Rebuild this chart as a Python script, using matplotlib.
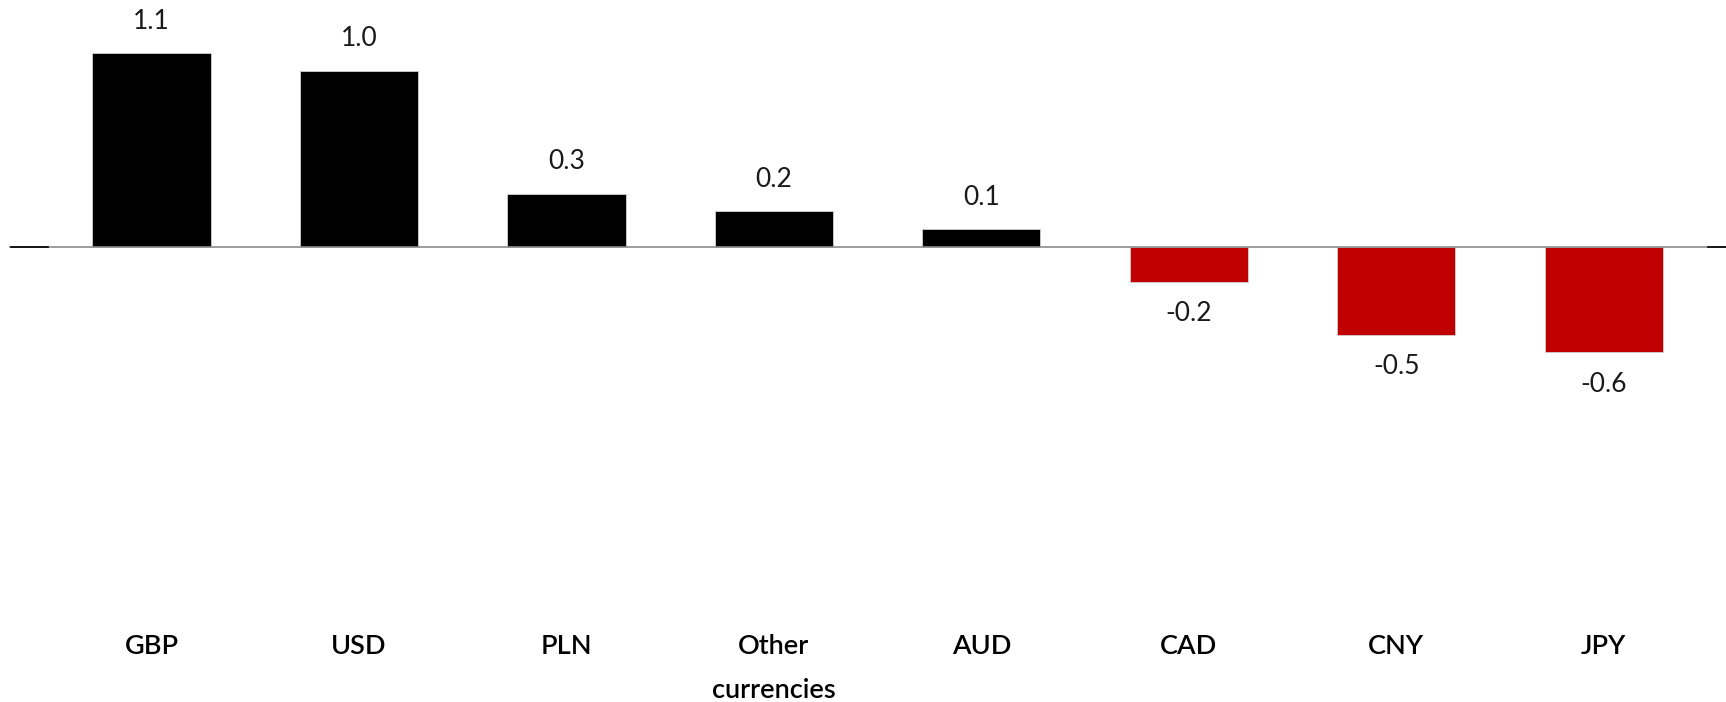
import matplotlib
matplotlib.use("Agg")
import matplotlib.pyplot as plt
import matplotlib.transforms as mtransforms

plt.rcParams['font.family'] = ['Lato', 'DejaVu Sans']

categories = ["GBP", "USD", "PLN", "Other\ncurrencies", "AUD", "CAD", "CNY", "JPY"]
values = [1.1, 1.0, 0.3, 0.2, 0.1, -0.2, -0.5, -0.6]
labels = ["1.1", "1.0", "0.3", "0.2", "0.1", "-0.2", "-0.5", "-0.6"]

POS_COLOR = "#000000"
NEG_COLOR = "#C00000"

fig = plt.figure(figsize=(17.26, 7.02), dpi=100)
ax = fig.add_axes([0, 0, 1, 1])

x = list(range(len(categories)))
colors = [POS_COLOR if v >= 0 else NEG_COLOR for v in values]
ax.bar(x, values, width=0.57, color=colors, edgecolor="#d0d0d0",
       linewidth=0.6, zorder=2)

ax.set_xlim(-0.73, 7.589)
ax.set_ylim(-2.587, 1.401)

# zero line with short dark ends
ax.plot([-0.68, 7.589], [0, 0], color="#8c8c8c", lw=1.2, zorder=3)
ax.plot([-0.678, -0.5], [0, 0], color="#000000", lw=1.2, zorder=4)
ax.plot([7.5, 7.589], [0, 0], color="#000000", lw=1.2, zorder=4)

for xi, v, lab in zip(x, values, labels):
    off = 23 if v >= 0 else -23
    ax.annotate(lab, (xi, v), xytext=(0, off), textcoords="offset points",
                ha="center", va="center", fontsize=19, fontweight="normal",
                color="#1a1a1a")

# category names, one text per line so each line sits at a fixed height
trans = mtransforms.blended_transform_factory(ax.transData, ax.transAxes)
line_step = 44 / 702
for xi, cat in zip(x, categories):
    for i, part in enumerate(cat.split("\n")):
        ax.text(xi, 1 - 644 / 702 - i * line_step, part, transform=trans,
                ha="center", va="center_baseline", fontsize=19.5,
                fontweight="semibold", color="#000000")

ax.axis("off")
fig.savefig("out.png", dpi=100)
